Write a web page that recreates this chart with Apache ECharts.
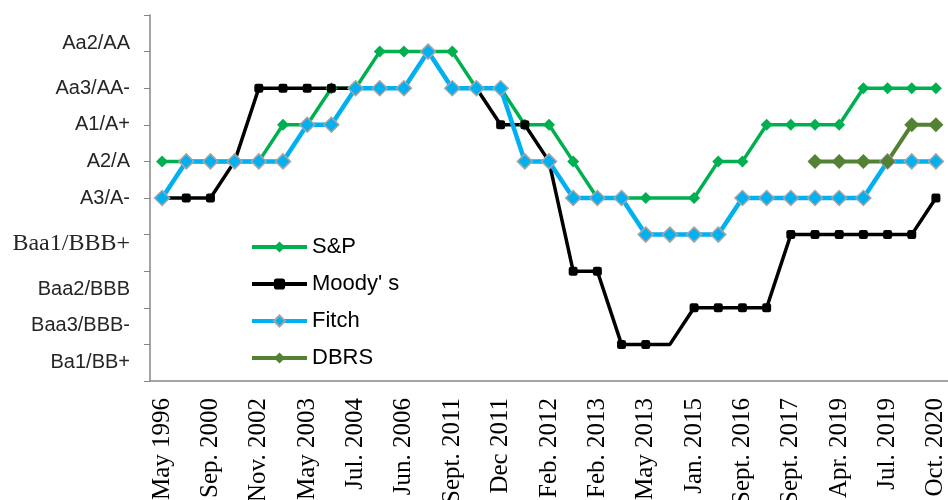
<!DOCTYPE html>
<html>
<head>
<meta charset="utf-8">
<script src="https://cdn.jsdelivr.net/npm/echarts@6/dist/echarts.min.js"></script>
<style>
  html, body { margin: 0; padding: 0; background: #fff; }
  #chart { width: 948px; height: 500px; }
</style>
</head>
<body>
<div id="chart"></div>
<script>
// rating dates (x) and rating scale (y, 1 = Ba1/BB+ ... 9 = Aa2/AA)
const dates = [
  'May 1996', '', 'Sep. 2000', '', 'Nov. 2002', '', 'May 2003', '', 'Jul. 2004', '',
  'Jun. 2006', '', 'Sept. 2011', '', 'Dec 2011', '', 'Feb. 2012', '', 'Feb. 2013', '',
  'May 2013', '', 'Jan. 2015', '', 'Sept. 2016', '', 'Sept. 2017', '', 'Apr. 2019', '',
  'Jul. 2019', '', 'Oct. 2020'
]
const ratingLabels = ['', 'Ba1/BB+', 'Baa3/BBB-', 'Baa2/BBB', 'Baa1/BBB+', 'A3/A-', 'A2/A', 'A1/A+', 'Aa3/AA-', 'Aa2/AA', '']

const sp      = [6,6,6,6,6,7,7,8,8,9,9,9,9,8,8,7,7,6,5,5,5,5,5,6,6,7,7,7,7,8,8,8,8]
const moodys  = [5,5,5,6,8,8,8,8,8,8,8,9,8,8,7,7,6,3,3,1,1,1,2,2,2,2,4,4,4,4,4,4,5]
const fitch   = [5,6,6,6,6,6,7,7,8,8,8,9,8,8,8,6,6,5,5,5,4,4,4,4,5,5,5,5,5,5,6,6,6]
const dbrs    = [null,null,null,null,null,null,null,null,null,null,null,null,null,null,null,
                 null,null,null,null,null,null,null,null,null,null,null,null,6,6,6,6,7,7]

// points drawn without a marker in the original
const noMarker = [21]

const labelStyle = ['', 'low', 'low', 'low', 'serif', 'sans', 'sans', 'sans', 'sans', 'up', '']

const withMarkers = arr => arr.map((v, i) => noMarker.includes(i) && v != null ? { value: v, symbol: 'none' } : v)

const chart = echarts.init(document.getElementById('chart'))

chart.setOption({
  animation: false,
  grid: { left: 150, right: 0, top: 15, bottom: 119, outerBoundsMode: 'none' },
  legend: {
    orient: 'vertical',
    left: 245,
    top: 231,
    itemWidth: 55,
    itemHeight: 14,
    itemGap: 15,
    lineStyle: { width: 4 },
    textStyle: { fontFamily: 'Liberation Sans', fontSize: 22, color: '#000' },
    data: ['S&P', "Moody' s", 'Fitch', 'DBRS']
  },
  xAxis: {
    type: 'category',
    boundaryGap: true,
    data: dates,
    axisLine: { lineStyle: { color: '#868686', width: 1.5 } },
    axisTick: { interval: 0, length: 5, lineStyle: { color: '#868686' } },
    axisLabel: {
      interval: 0,
      rotate: 90,
      margin: 17,
      fontFamily: 'Liberation Serif',
      fontSize: 25,
      color: '#000'
    }
  },
  yAxis: {
    type: 'value',
    min: 0,
    max: 10,
    interval: 1,
    splitLine: { show: false },
    axisLine: { show: true, lineStyle: { color: '#868686', width: 1.5 } },
    axisTick: { show: true, length: 6, lineStyle: { color: '#868686' } },
    axisLabel: {
      margin: 20,
      color: '#262626',
      formatter: v => ratingLabels[v] ? `{${labelStyle[v]}|${ratingLabels[v]}}` : '',
      rich: {
        up:    { fontFamily: 'Liberation Sans', fontSize: 20, color: '#262626', padding: [0, 0, 16, 0] },
        sans:  { fontFamily: 'Liberation Sans', fontSize: 20, color: '#262626' },
        serif: { fontFamily: 'Liberation Serif', fontSize: 24, color: '#262626', padding: [18, 0, 0, 0] },
        low:   { fontFamily: 'Liberation Sans', fontSize: 20, color: '#262626', padding: [36, 0, 0, 0] }
      }
    }
  },
  series: [
    {
      name: 'S&P', type: 'line',
      data: withMarkers(sp),
      symbol: 'diamond', symbolSize: 12,
      lineStyle: { color: '#00B050', width: 3.5 },
      itemStyle: { color: '#00B050' }
    },
    {
      name: "Moody' s", type: 'line',
      data: withMarkers(moodys),
      symbol: 'roundRect', symbolSize: 9,
      lineStyle: { color: '#000', width: 3.5 },
      itemStyle: { color: '#000' }
    },
    {
      name: 'Fitch', type: 'line',
      data: fitch,
      symbol: 'diamond', symbolSize: 15,
      lineStyle: { color: '#00B0F0', width: 4.5 },
      itemStyle: { color: '#00B0F0', borderColor: '#A5A5A5', borderWidth: 1.5 }
    },
    {
      name: 'DBRS', type: 'line',
      data: dbrs,
      symbol: 'diamond', symbolSize: 15,
      lineStyle: { color: '#548235', width: 4 },
      itemStyle: { color: '#548235' }
    }
  ]
})
</script>
</body>
</html>
